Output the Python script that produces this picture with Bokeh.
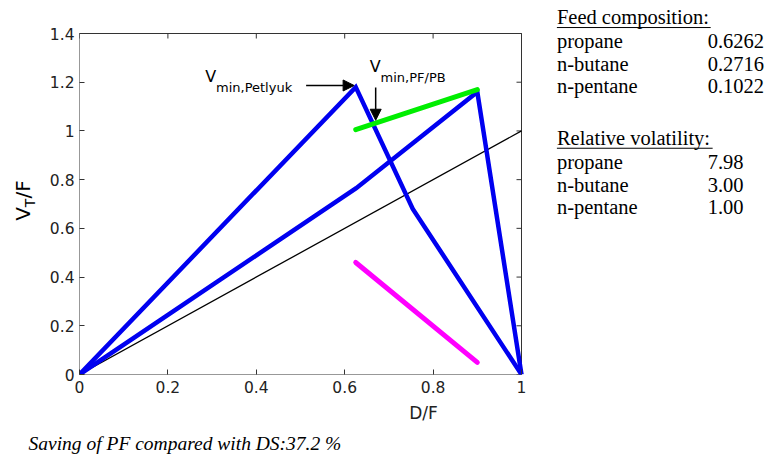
import math
from bokeh.plotting import figure
from bokeh.layouts import row, column
from bokeh.models import Arrow, NormalHead, FixedTicker, Range1d, Div
from bokeh.core.properties import value
from bokeh.embed import file_html
from bokeh.resources import INLINE

# ---------------- data ----------------
x_ticks = [0, 0.2, 0.4, 0.6, 0.8, 1.0]
x_tick_labels = ["0", "0.2", "0.4", "0.6", "0.8", "1"]
y_ticks = [0, 0.2, 0.4, 0.6, 0.8, 1.0, 1.2, 1.4]
y_tick_labels = ["0", "0.2", "0.4", "0.6", "0.8", "1", "1.2", "1.4"]

petlyuk_x = [0.0, 0.625, 0.754, 1.0]
petlyuk_y = [0.0, 1.18, 0.68, 0.0]
pfpb_x = [0.0, 0.626, 0.9, 1.0]
pfpb_y = [0.0, 0.765, 1.16, 0.0]
green_x = [0.625, 0.9]
green_y = [1.005, 1.17]
magenta_x = [0.625, 0.9]
magenta_y = [0.46, 0.05]
diag_x = [0.0, 1.0]
diag_y = [0.0, 1.0]

feed_title = "Feed composition:"
feed_names = ["propane", "n-butane", "n-pentane"]
feed_values = ["0.6262", "0.2716", "0.1022"]
vol_title = "Relative volatility:"
vol_names = ["propane", "n-butane", "n-pentane"]
vol_values = ["7.98", "3.00", "1.00"]
x_label = "D/F"
caption = "Saving of PF compared with DS:37.2 %"

SANS = "DejaVu Sans"
SERIF = "Liberation Serif"
AX = "#333333"
BASE_K = 0.28   # observed drop of the svg "alphabetic" baseline, in em

# ---------------- geometry (content px, reference scaled to 767x450) ----------------
SX, SY = 767 / 783, 450 / 466
def X(px):
    return px * SX
def Y(py):
    return py * SY

W, H = 767, 450
CAP_H = 22
ROW_H = H - CAP_H
LEFT_W = 40
MAIN_W = W - LEFT_W
FL, FR, FT, FB = round(X(81)), round(X(532)), round(Y(34)), round(Y(387))
BOTTOM = ROW_H - FB

x_end = x_ticks[0] + (x_ticks[-1] - x_ticks[0]) * (W - FL) / (FR - FL)
y_end = y_ticks[0] + (y_ticks[-1] - y_ticks[0]) * FB / (FB - FT)

# ---------------- main figure (frame reaches top and right edges) ----------------
p = figure(width=MAIN_W, height=ROW_H, output_backend="svg", toolbar_location=None,
           title=None,
           x_range=Range1d(x_ticks[0], x_end), y_range=Range1d(y_ticks[0], y_end),
           min_border_left=FL - LEFT_W, min_border_right=0,
           min_border_top=0, min_border_bottom=BOTTOM,
           x_axis_label=x_label)
p.grid.visible = False
p.outline_line_color = None
p.background_fill_color = "white"
p.border_fill_color = "white"

p.xaxis.ticker = FixedTicker(ticks=x_ticks)
p.xaxis.major_label_overrides = {t: l for t, l in zip(x_ticks, x_tick_labels)}
p.yaxis.ticker = FixedTicker(ticks=y_ticks)
p.yaxis.major_label_overrides = {t: l for t, l in zip(y_ticks, y_tick_labels)}
for ax in [p.xaxis[0], p.yaxis[0]]:
    ax.major_tick_in = 5
    ax.major_tick_out = 0
    ax.minor_tick_line_color = None
    ax.axis_line_color = None
    ax.major_tick_line_color = AX
    ax.major_label_text_font = SANS
    ax.major_label_text_font_size = "15.5px"
    ax.major_label_text_color = "#222222"
p.xaxis.major_label_standoff = 6
p.yaxis.major_label_standoff = 5
p.xaxis.axis_label_text_font = SANS
p.xaxis.axis_label_text_font_size = "17px"
p.xaxis.axis_label_text_font_style = "normal"
p.xaxis.axis_label_text_color = "#222222"
p.xaxis.axis_label_standoff = 7

# plot box and mirrored inside ticks
p.quad(left=[x_ticks[0]], right=[x_ticks[-1]], bottom=[y_ticks[0]], top=[y_ticks[-1]],
       fill_color=None, line_color=AX, line_width=1)
p.ray(x=x_ticks, y=[y_ticks[-1]] * len(x_ticks), length=5, length_units="screen",
      angle=-math.pi / 2, line_color=AX, line_width=1)
p.ray(x=[x_ticks[-1]] * len(y_ticks), y=y_ticks, length=5, length_units="screen",
      angle=math.pi, line_color=AX, line_width=1)

# curves
p.line(diag_x, diag_y, line_color="black", line_width=1.3)
p.line(petlyuk_x, petlyuk_y, line_color="#0000f0", line_width=4.5, line_join="miter")
p.line(pfpb_x, pfpb_y, line_color="#0000f0", line_width=4.5, line_join="miter")
p.line(green_x, green_y, line_color="#00ee00", line_width=5, line_cap="round")
p.line(magenta_x, magenta_y, line_color="#ff00ff", line_width=5, line_cap="round")

def dx(cx):
    return x_ticks[0] + (cx - FL) / (FR - FL) * (x_ticks[-1] - x_ticks[0])

def dy(cy):
    return y_ticks[0] + (FB - cy) / (FB - FT) * (y_ticks[-1] - y_ticks[0])

def ptext(px, py, text, size, font=SANS, color="black"):
    s = float(size.replace("px", ""))
    p.text(x=[dx(X(px))], y=[dy(Y(py) - BASE_K * s)], text=[text], text_font=value(font),
           text_font_size=value(size), text_color=color,
           text_align="left", text_baseline="alphabetic")

# V_min annotations
ptext(209, 83, "V", "16px")
ptext(220, 94, "min,Petlyuk", "13px")
ptext(377, 73, "V", "16px")
ptext(388, 84, "min,PF/PB", "13px")

head = dict(size=11, fill_color="black", line_color="black")
p.add_layout(Arrow(x_start=dx(X(312)), y_start=dy(Y(88)), x_end=dx(X(361)), y_end=dy(Y(88)),
                   line_width=1.5, line_color="black", end=NormalHead(**head)))
p.add_layout(Arrow(x_start=dx(X(383)), y_start=dy(Y(90)), x_end=dx(X(383)), y_end=dy(Y(124)),
                   line_width=1.5, line_color="black", end=NormalHead(**head)))

# composition table (inside the extended frame)
TS = "20.5px"
ptext(568, 23, feed_title, TS, font=SERIF)
for i, (n, v) in enumerate(zip(feed_names, feed_values)):
    ptext(568, 48 + 23.5 * i, n, TS, font=SERIF)
    ptext(722, 48 + 23.5 * i, v, TS, font=SERIF)
ptext(568, 148, vol_title, TS, font=SERIF)
for i, (n, v) in enumerate(zip(vol_names, vol_values)):
    ptext(568, 173 + 23.5 * i, n, TS, font=SERIF)
    ptext(722, 173 + 23.5 * i, v, TS, font=SERIF)
p.segment(x0=[dx(X(568)), dx(X(568))], y0=[dy(Y(28)), dy(Y(153))],
          x1=[dx(X(725)), dx(X(727))], y1=[dy(Y(28)), dy(Y(153))],
          line_color="black", line_width=1)

# ---------------- left strip: y axis label V_T/F ----------------
yl = figure(width=LEFT_W, height=ROW_H, output_backend="svg", toolbar_location=None,
            title=None, x_range=Range1d(0, LEFT_W), y_range=Range1d(FB, 0),
            min_border_left=0, min_border_right=0, min_border_top=0,
            min_border_bottom=BOTTOM, x_axis_location=None, y_axis_location=None)
yl.grid.visible = False
yl.outline_line_color = None
yl.background_fill_color = "white"
yl.border_fill_color = "white"

def ytext(px, py, text, size):
    s = float(size.replace("px", ""))
    yl.text(x=[X(px) - BASE_K * s], y=[Y(py)], text=[text], angle=math.pi / 2,
            text_font=value(SANS), text_font_size=value(size), text_color="black",
            text_align="left", text_baseline="alphabetic")
ytext(29, 228, "V", "20px")
ytext(34, 214, "T", "14px")
ytext(29, 205, "/F", "20px")

# ---------------- caption ----------------
cap = Div(width=W, height=CAP_H,
          text=('<div style="position:relative;width:%dpx;height:%dpx;">'
                '<span style="position:absolute;left:%.1fpx;top:1px;'
                "font-family:'Liberation Serif';font-size:19.5px;font-style:italic;"
                'line-height:1;white-space:nowrap;color:black;">%s</span></div>')
          % (W, CAP_H, X(24), caption))

layout = column(row(yl, p), cap)
open("out.html", "w").write(file_html(layout, INLINE))
